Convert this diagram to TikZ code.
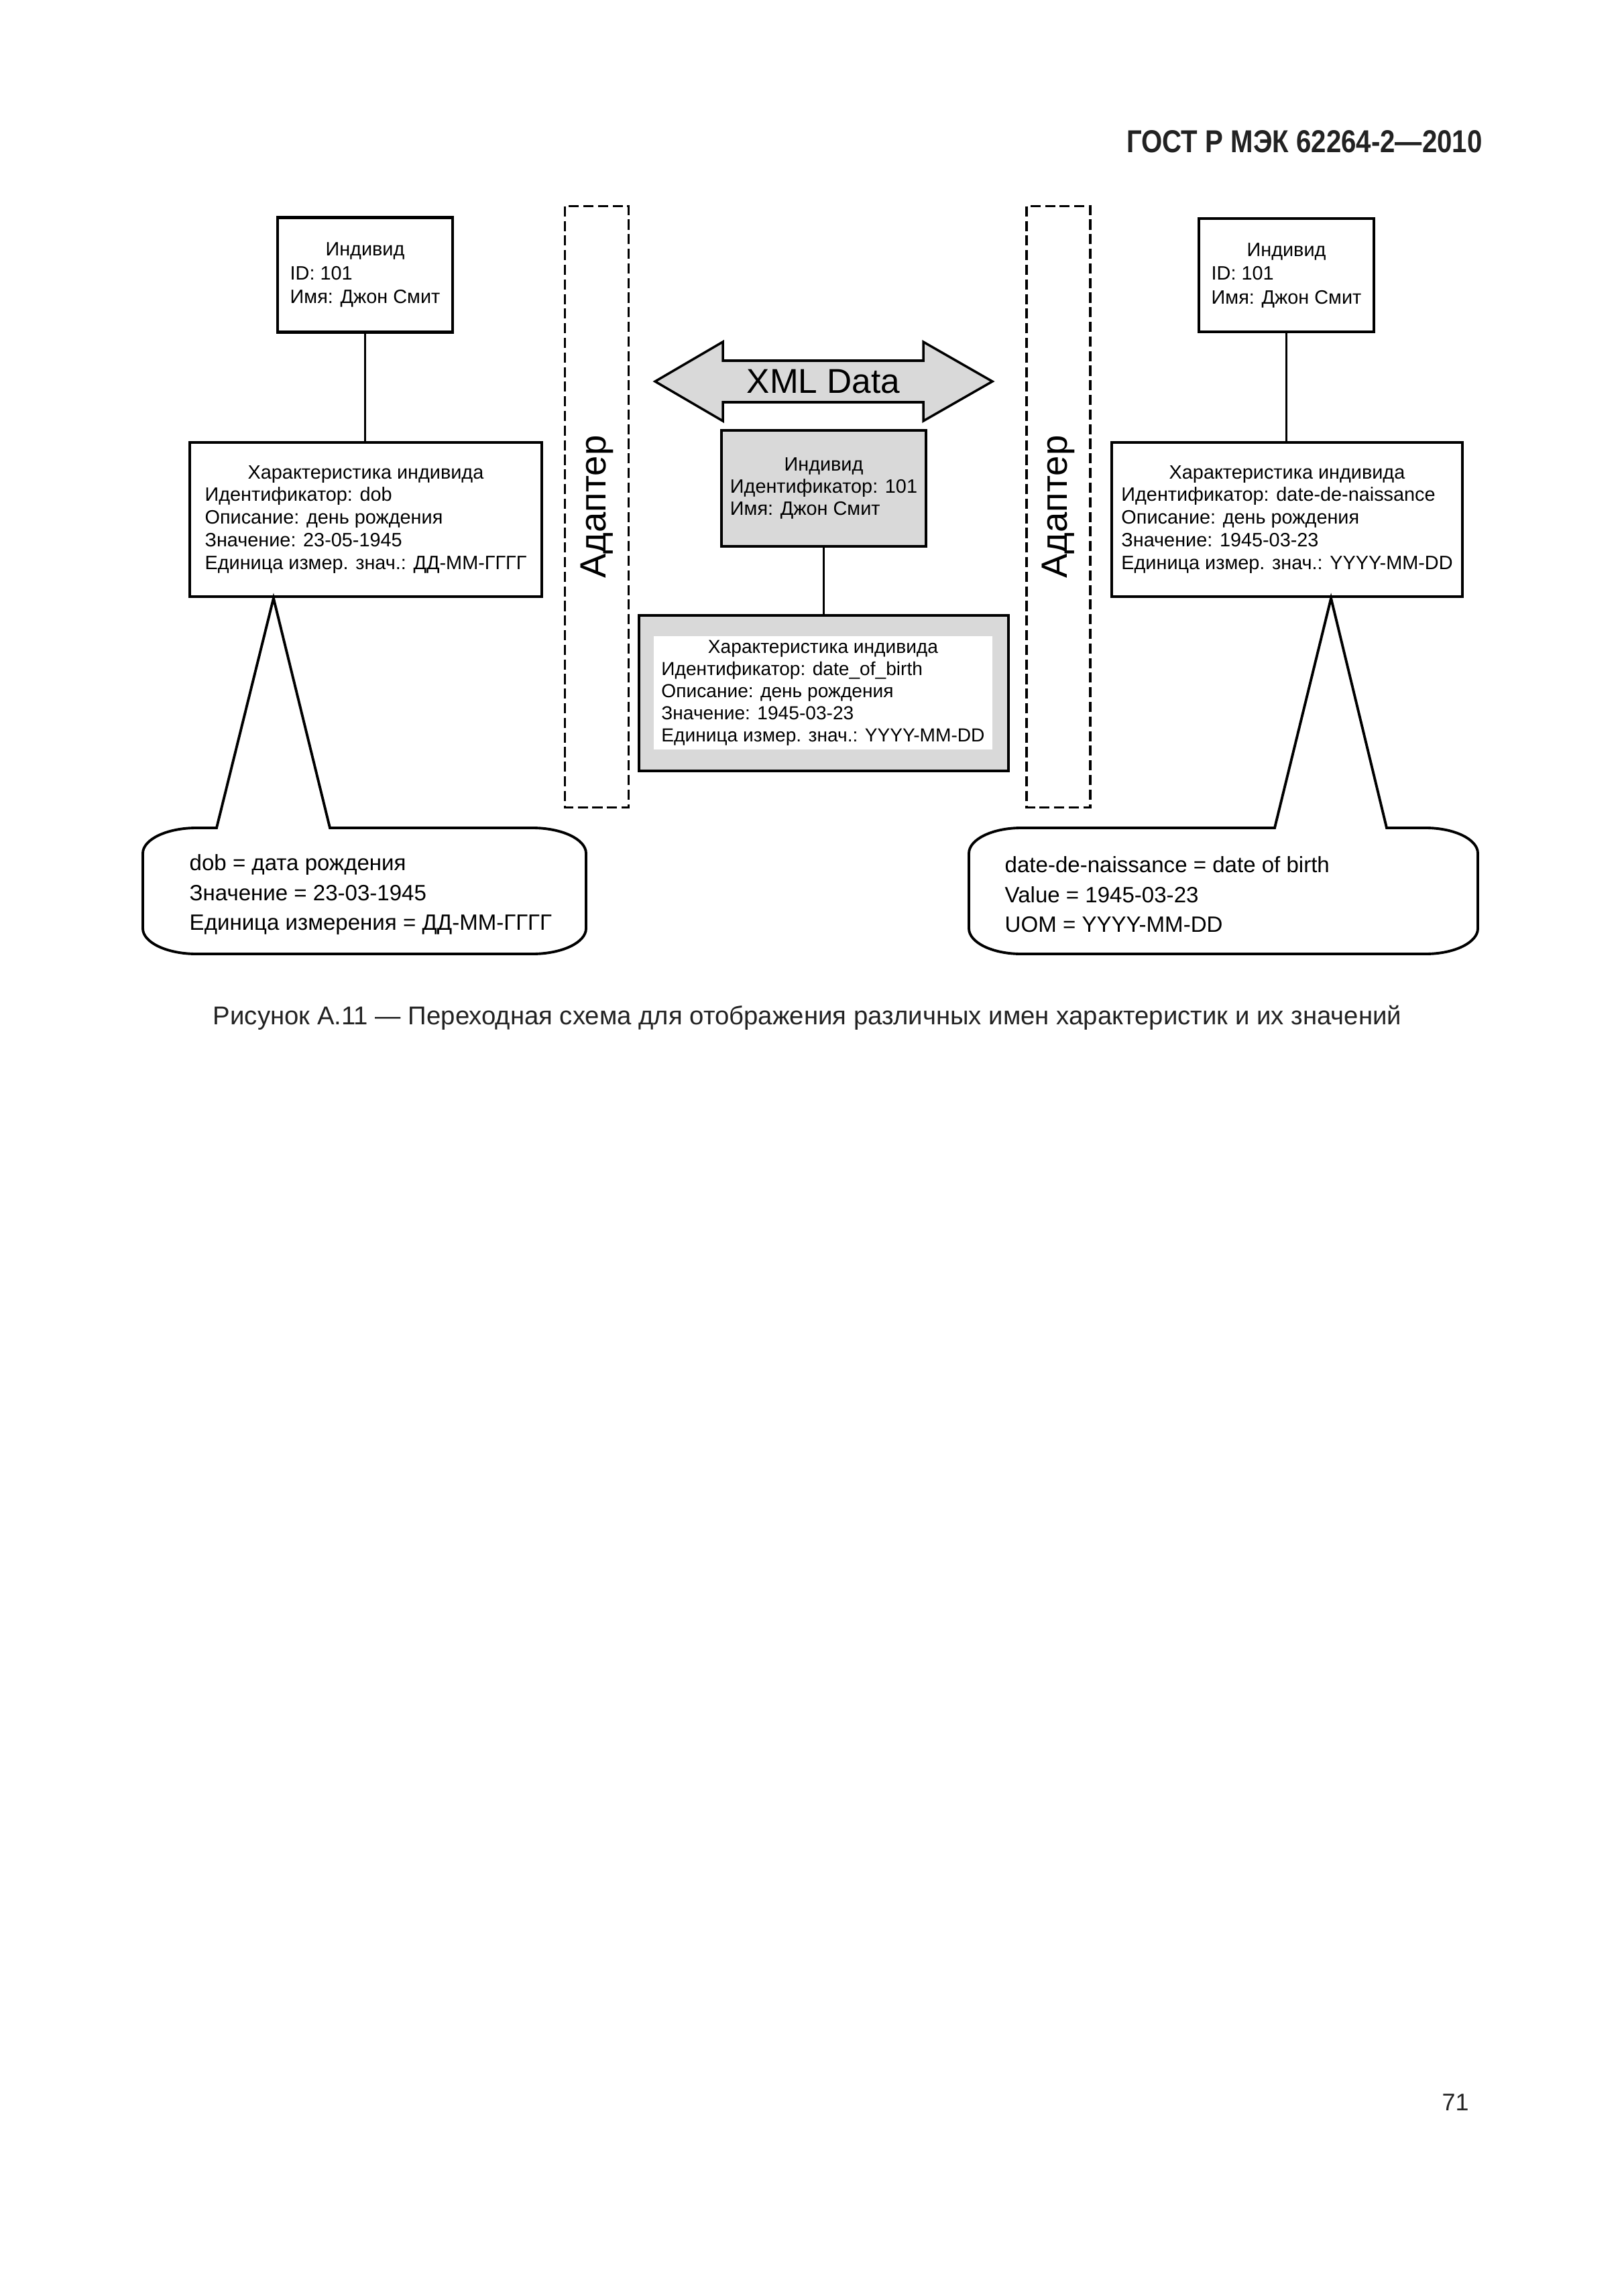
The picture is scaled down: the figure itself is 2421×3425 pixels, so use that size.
\documentclass[tikz,border=0pt]{standalone}
\usepackage{fontspec}
\setmainfont{Liberation Sans}
\newfontfamily\narrowfont[FakeStretch=0.85]{Liberation Sans}
\usepackage{xcolor}
\definecolor{boxgray}{RGB}{217,217,217}
\definecolor{inkgray}{RGB}{34,34,34}
\usetikzlibrary{positioning, calc}

\newcommand{\entlines}[2]{\begin{tabular}{@{}l@{}}\multicolumn{1}{@{}c@{}}{#1}\\#2\end{tabular}}

\tikzset{
  entbox/.style={draw, line width=1.3pt, inner sep=0pt, font=\fontsize{8.2}{10.1}\selectfont},
  propbox/.style={entbox, font=\fontsize{8.2}{9.6}\selectfont},
  adapter/.style={draw, dash pattern=on 4.3pt off 1.9pt, line width=1pt, rotate=90,
    minimum width=8.96cm, minimum height=0.95cm, inner sep=0pt, font=\fontsize{15.5}{18}\selectfont},
  link/.style={line width=0.9pt},
  bubble/.style={draw, line width=1.1pt, line join=miter},
  bubbletext/.style={anchor=north west, inner sep=0pt, align=left, font=\fontsize{9.4}{12.7}\selectfont}
}

\begin{document}
\begin{tikzpicture}[x=0.01cm, y=-0.01cm]
  \useasboundingbox[fill=white] (0,0) rectangle (2421,3425);
  % Page head
  \node[anchor=base east, inkgray, font={\narrowfont\bfseries\fontsize{13.45}{15}\selectfont}] (gost) at (2223,228) {ГОСТ Р МЭК 62264-2—2010};

  % Left: source system
  \node[entbox, minimum width=2.61cm, minimum height=1.71cm] (lind) at (544.5,410) {\entlines{Индивид}{ID: 101\\Имя: Джон Смит}};
  \node[propbox, minimum width=5.25cm, minimum height=2.3cm] (lchar) at (545.5,775) {\entlines{Характеристика индивида}{Идентификатор: dob\\Описание: день рождения\\Значение: 23-05-1945\\Единица измер. знач.: ДД-ММ-ГГГГ}};
  \draw[link] (lind.south) -- (lind.south |- lchar.north);

  % Adapters
  \node[adapter] (ladapt) at (890,756) {Адаптер};
  \node[adapter] (radapt) at (1578.5,756) {Адаптер};

  % Middle: exchanged data
  \draw[fill=boxgray, line width=1pt] (977,569) -- (1078,510) -- (1078,538) -- (1377,538) -- (1377,510) -- (1480,569)
    -- (1377,628) -- (1377,600) -- (1078,600) -- (1078,628) -- cycle;
  \node[font=\fontsize{14.6}{16}\selectfont, inner sep=0pt] (xmltext) at (1228,569) {XML Data};
  \node[entbox, fill=boxgray, minimum width=3.05cm, minimum height=1.73cm, font=\fontsize{8.2}{9.4}\selectfont] (mind) at (1228.5,728.5) {\entlines{Индивид}{Идентификатор: 101\\Имя: Джон Смит}};
  \node[entbox, fill=boxgray, minimum width=5.51cm, minimum height=2.32cm] (mchar) at (1228.5,1034) {};
  \node[propbox, draw=none, fill=white, minimum width=5.05cm, minimum height=1.69cm, font=\fontsize{8.0}{9.4}\selectfont] (mcharin) at (1227.5,1033.5) {\entlines{Характеристика индивида}{Идентификатор: date\_of\_birth\\Описание: день рождения\\Значение: 1945-03-23\\Единица измер. знач.: YYYY-MM-DD}};
  \draw[link] (mind.south) -- (mind.south |- mchar.north);

  % Right: target system
  \node[entbox, minimum width=2.61cm, minimum height=1.69cm] (rind) at (1918.5,410.5) {\entlines{Индивид}{ID: 101\\Имя: Джон Смит}};
  \node[propbox, minimum width=5.23cm, minimum height=2.3cm] (rchar) at (1919.5,775) {\entlines{Характеристика индивида}{Идентификатор: date-de-naissance\\Описание: день рождения\\Значение: 1945-03-23\\Единица измер. знач.: YYYY-MM-DD}};
  \draw[link] (rind.south) -- (rind.south |- rchar.north);

  % Callouts
  \coordinate (ltip) at ([xshift=-1.375cm]lchar.south);
  \coordinate (rtip) at ([xshift=0.655cm]rchar.south);
  \draw[bubble] (323,1235) -- (ltip) -- (492,1235) -- (794,1235) .. controls (838,1235) and (874,1252) .. (874,1273)
    -- (874,1385) .. controls (874,1406) and (838,1423) .. (794,1423) -- (293,1423) .. controls (249,1423) and (213,1406) .. (213,1385)
    -- (213,1273) .. controls (213,1252) and (249,1235) .. (293,1235) -- cycle;
  \node[bubbletext] (lnote) at (282,1274) {dob = дата рождения\\Значение = 23-03-1945\\Единица измерения = ДД-ММ-ГГГГ};
  \draw[bubble] (1901,1235) -- (rtip) -- (2068,1235) -- (2126,1235) .. controls (2169,1235) and (2204,1252) .. (2204,1273)
    -- (2204,1385) .. controls (2204,1406) and (2169,1423) .. (2126,1423) -- (1523,1423) .. controls (1480,1423) and (1445,1406) .. (1445,1385)
    -- (1445,1273) .. controls (1445,1252) and (1480,1235) .. (1523,1235) -- cycle;
  \node[bubbletext] (rnote) at (1498,1277) {date-de-naissance = date of birth\\Value = 1945-03-23\\UOM = YYYY-MM-DD};

  % Caption and page number
  \node[anchor=base, inkgray, font=\fontsize{10.9}{13}\selectfont] (caption) at (1204,1528) {Рисунок А.11 — Переходная схема для отображения различных имен характеристик и их значений};
  \node[anchor=base east, inkgray, font=\fontsize{10.2}{12}\selectfont] (pageno) at (2203,3148) {71};
\end{tikzpicture}
\end{document}
